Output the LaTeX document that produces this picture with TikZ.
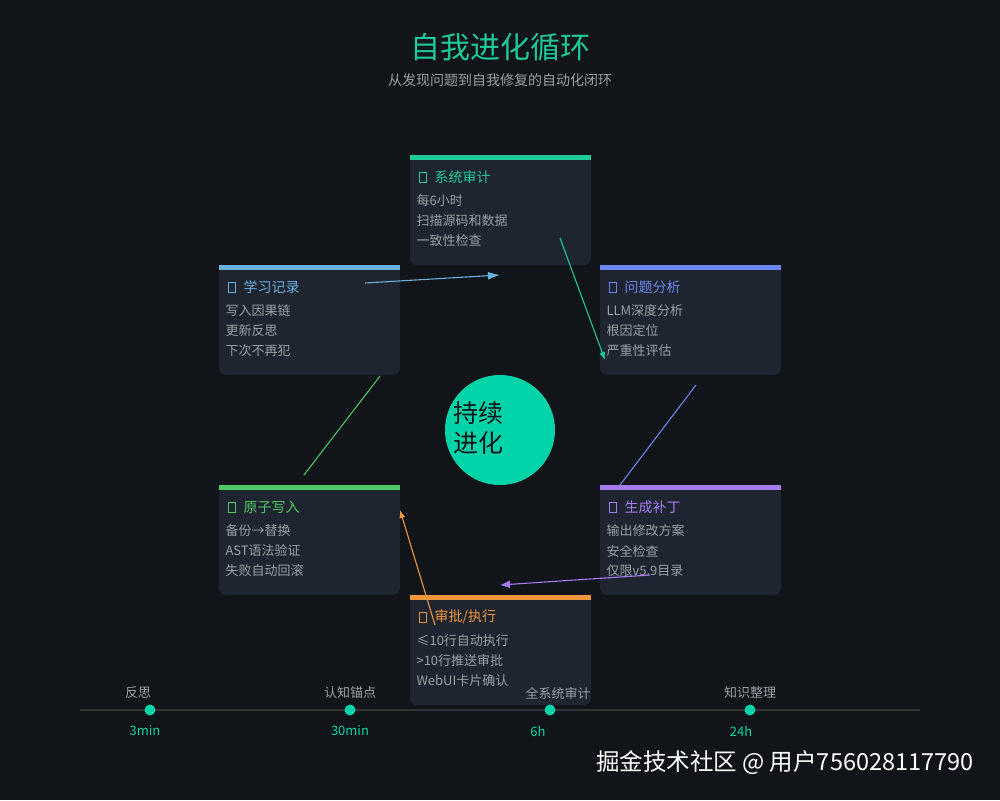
\documentclass[tikz,border=0pt]{standalone}
\usepackage{fontspec}
\setmainfont{Noto Sans CJK SC}
\usetikzlibrary{arrows.meta}
\definecolor{bg}{HTML}{111418}
\definecolor{card}{HTML}{1F2530}
\definecolor{txt}{HTML}{9AA0A6}
\definecolor{cG}{HTML}{1EC99A}
\definecolor{cB}{HTML}{6AB0DE}
\definecolor{cI}{HTML}{6A86F0}
\definecolor{cL}{HTML}{4CC764}
\definecolor{cP}{HTML}{A47CF0}
\definecolor{cO}{HTML}{F0973A}
\definecolor{teal}{HTML}{00D4A8}
\tikzset{
 line/.style={line width=1.1pt},
 ctitle/.style={anchor=west,font=\fontsize{14}{16}\selectfont},
 cline/.style={anchor=west,text=txt,font=\fontsize{13}{15}\selectfont},
 tl/.style={text=txt,font=\fontsize{13}{15}\selectfont},
 tb/.style={text=teal,font=\fontsize{13}{15}\selectfont},
}
\newcommand{\card}[8]{% x y color name title l1 l2 l3
 \fill[card,rounded corners=7pt] (#1,#2) rectangle ++(181,110);
 \fill[#3] (#1,#2) rectangle ++(181,5);
 \draw[#3,line width=1pt] (#1+9,#2+17) rectangle ++(7,10);
 \node[ctitle,text=#3] (#4) at (#1+21,#2+22) {#5};
 \node[cline] at (#1+3,#2+46) {#6};
 \node[cline] at (#1+3,#2+66) {#7};
 \node[cline] at (#1+3,#2+86) {#8};
}
\begin{document}
\begin{tikzpicture}[x=1pt,y=-1pt]
\fill[bg] (0,0) rectangle (1000,800);
\useasboundingbox (0,0) rectangle (1000,800);
\node[text=cG,font=\fontsize{30}{34}\selectfont] (title) at (500,47) {自我进化循环};
\node[text=txt,font=\fontsize{14}{16}\selectfont] (sub) at (500,80) {从发现问题到自我修复的自动化闭环};
\card{410}{155}{cG}{a}{系统审计}{每6小时}{扫描源码和数据}{一致性检查}
\card{219}{265}{cB}{b}{学习记录}{写入因果链}{更新反思}{下次不再犯}
\card{600}{265}{cI}{c}{问题分析}{LLM深度分析}{根因定位}{严重性评估}
\card{219}{485}{cL}{d}{原子写入}{备份→替换}{AST语法验证}{失败自动回滚}
\card{600}{485}{cP}{e}{生成补丁}{输出修改方案}{安全检查}{仅限v5.9目录}
\card{410}{595}{cO}{f}{审批/执行}{≤10行自动执行}{>10行推送审批}{WebUI卡片确认}
\fill[teal] (500,430) circle (55);
\node[text=bg,font=\fontsize{25}{30}\selectfont,align=left] (ctr) at (478,428) {持续\\进化};
\coordinate (a1) at (560,238); \coordinate (a2) at (605,360);
\coordinate (c1) at (696,385); \coordinate (c2) at (620,485);
\coordinate (e1) at (650,575); \coordinate (e2) at (500,585);
\coordinate (f1) at (435,625); \coordinate (f2) at (400,510);
\coordinate (d1) at (304,475); \coordinate (d2) at (380,376);
\coordinate (b1) at (365,283); \coordinate (b2) at (500,275);
\draw[cG,line,-{Latex[length=8pt,width=6pt]}] (a1) -- (a2);
\draw[cI,line] (c1) -- (c2);
\draw[cP,line,-{Latex[length=10pt,width=8pt]}] (e1) -- (e2);
\draw[cO,line,-{Latex[length=8pt,width=6pt]}] (f1) -- (f2);
\draw[cL,line] (d1) -- (d2);
\draw[cB,line,-{Latex[length=12pt,width=8pt]}] (b1) -- (b2);
\draw[color=black!60!gray,line width=1.2pt] (80,710) -- (920,710);
\foreach \x/\ax/\a/\bx/\b/\n in {150/138/反思/145/3min/t1,350/350/认知锚点/350/30min/t2,550/558/全系统审计/538/6h/t3,750/750/知识整理/741/24h/t4}{
 \fill[teal] (\x,710) circle (5.5);
 \node[tl] (\n a) at (\ax,693) {\a};
 \node[tb] (\n b) at (\bx,731) {\b};
}
\node[text=white,font=\fontsize{23.5}{27}\selectfont,anchor=east] (wm) at (977,763) {掘金技术社区 @ 用户756028117790};
\end{tikzpicture}
\end{document}
